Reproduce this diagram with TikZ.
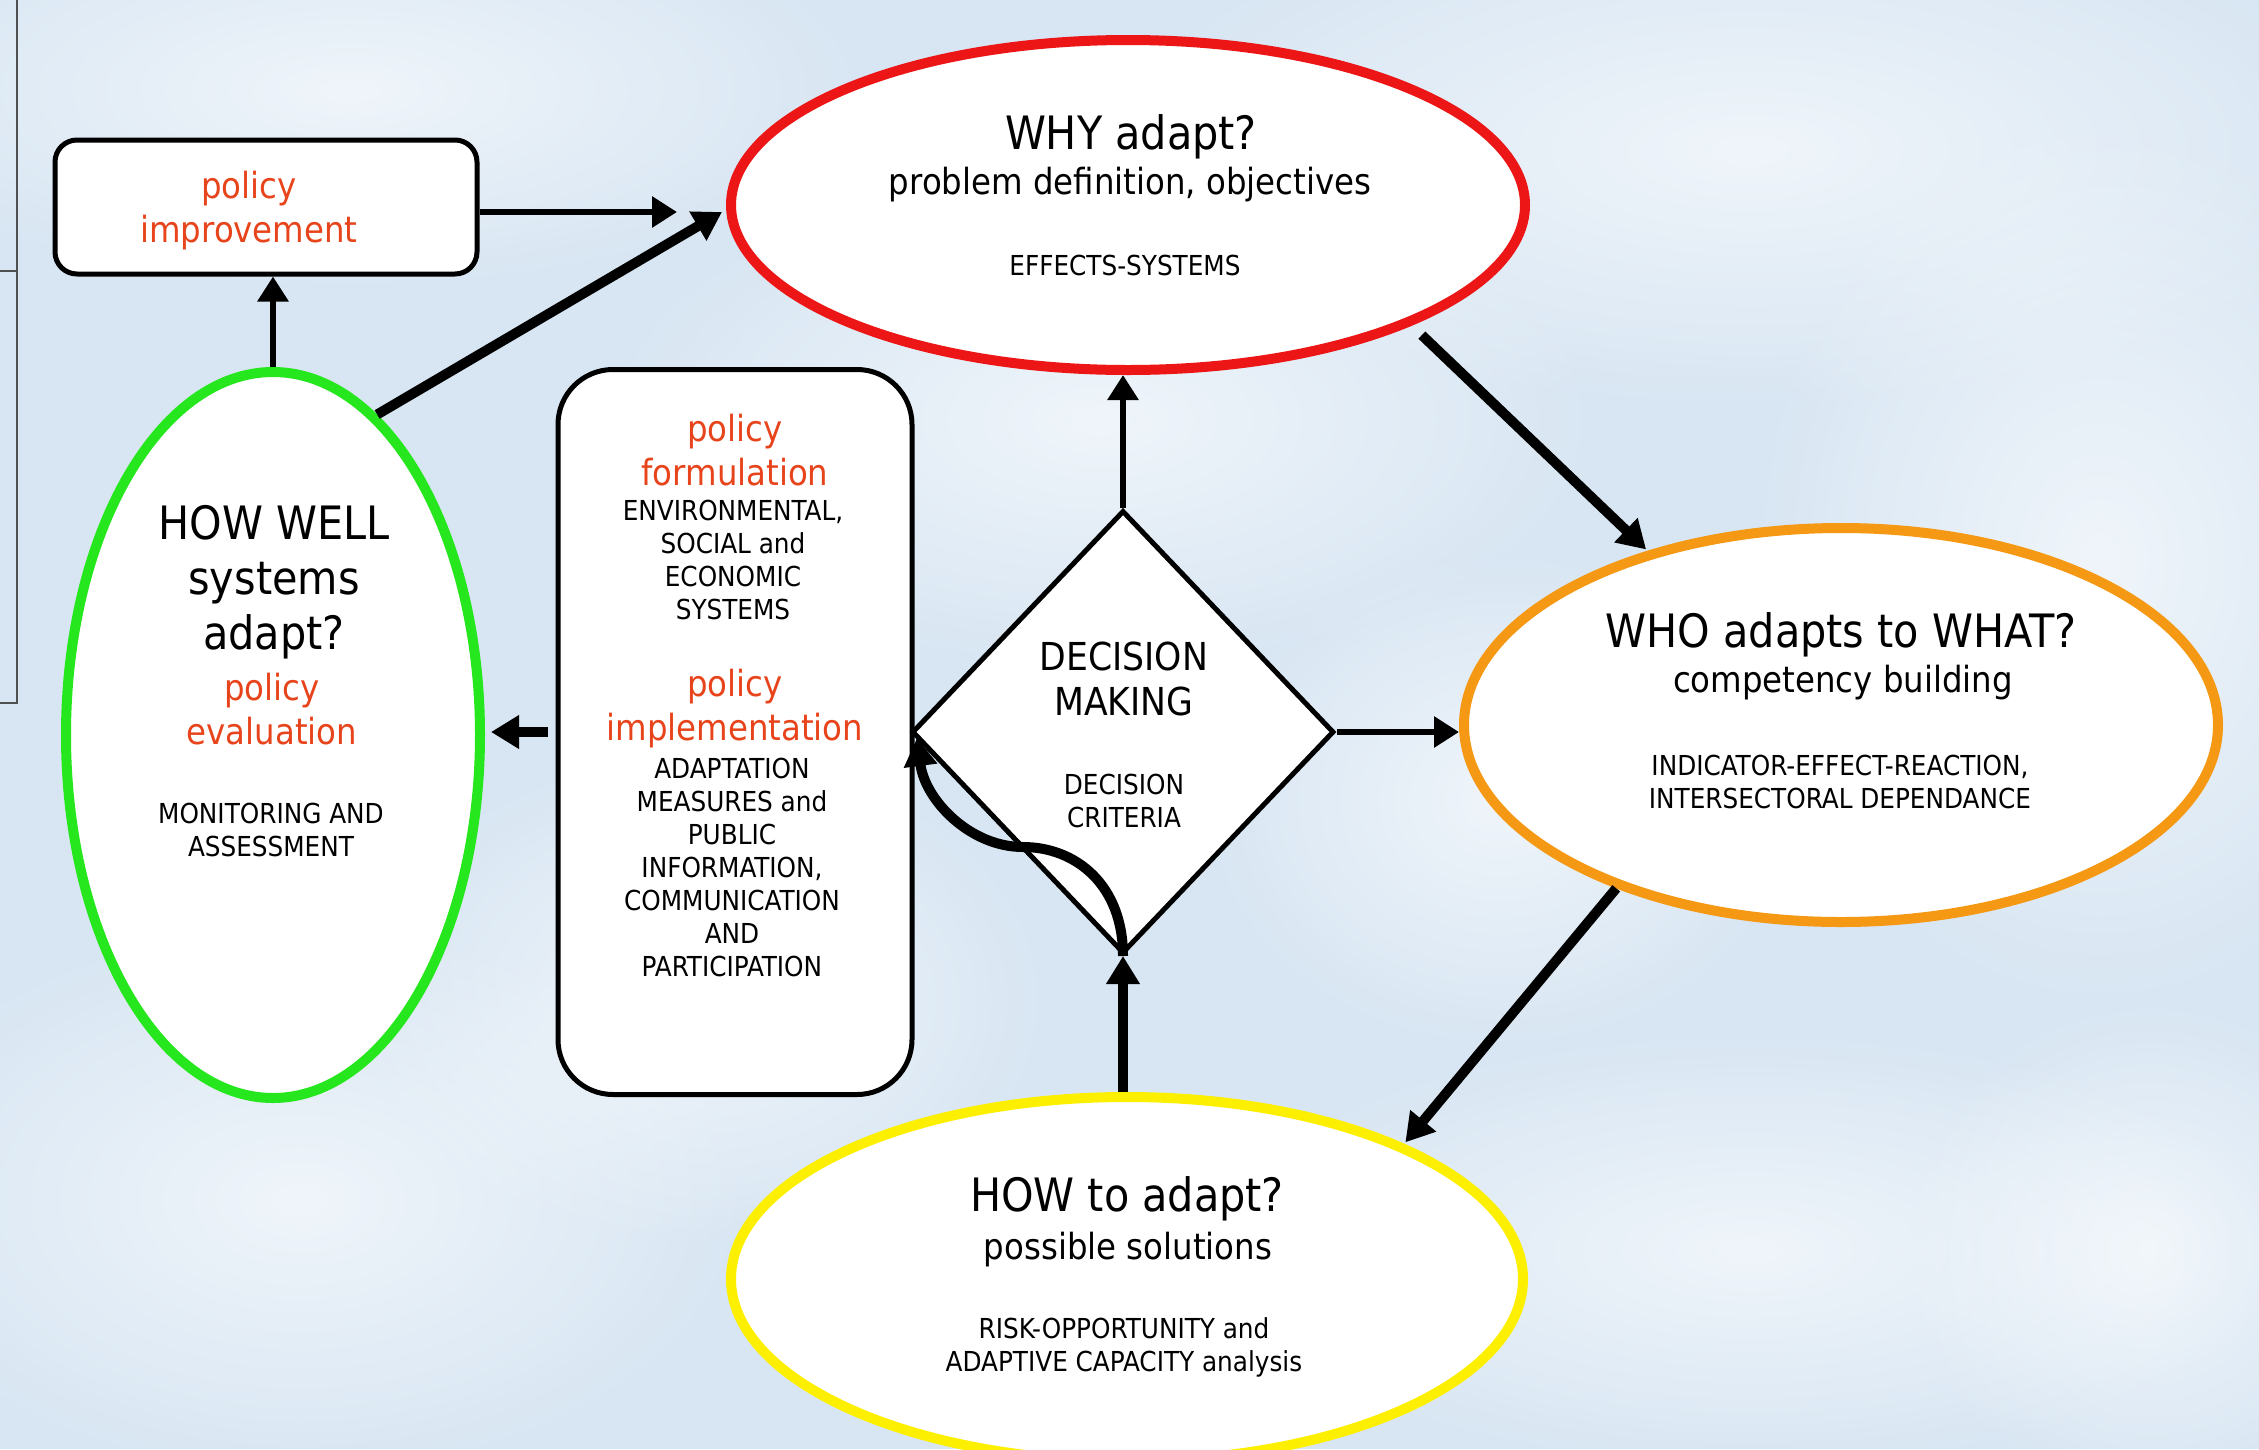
\documentclass[tikz,border=0pt]{standalone}
\usepackage{fontspec}
\setmainfont{DejaVu Sans Condensed}
\usetikzlibrary{shapes.geometric,arrows.meta,fadings}
\tikzfading[name=softblob, inner color=transparent!0, outer color=transparent!100]
\definecolor{bgblue}{RGB}{216,230,243}
\definecolor{txtred}{RGB}{232,68,28}
\definecolor{ellred}{RGB}{236,22,22}
\definecolor{ellorange}{RGB}{245,152,20}
\definecolor{ellyellow}{RGB}{252,240,0}
\definecolor{ellgreen}{RGB}{38,230,30}
\definecolor{framegray}{RGB}{80,80,80}
\tikzset{
  bigtxt/.style={font={\fontsize{46}{55}\selectfont}, align=center, inner sep=0pt},
  medtxt/.style={font={\fontsize{36}{44}\selectfont}, align=center, inner sep=0pt},
  smalltxt/.style={font={\fontsize{27.5}{33}\selectfont}, align=center, inner sep=0pt},
  dectxt/.style={font={\fontsize{38.5}{45}\selectfont}, align=center, inner sep=0pt},
  redtxt/.style={medtxt, text=txtred},
  ellbox/.style={ellipse, fill=white, line width=10pt, inner sep=0pt},
  roundbox/.style={draw=black, fill=white, line width=5pt, inner sep=0pt},
  thinarrow/.style={line width=6pt, -{Triangle[length=25pt,width=30pt]}},
  thickarrow/.style={line width=10pt, -{Triangle[length=28pt,width=32pt]}}
}
\begin{document}
\begin{tikzpicture}[x=1pt,y=-1pt]
\useasboundingbox (0,0) rectangle (2259,1449);
\clip (0,0) rectangle (2259,1449);
% background
\fill[bgblue] (0,0) rectangle (2259,1449);
\foreach \cx/\cy/\rx/\ry in {350/90/520/200, 1100/420/500/250, 1750/150/650/260, 2100/560/350/450,
  300/1200/450/280, 1750/1250/550/220, 700/1000/350/250, 1500/800/300/250, 2150/1250/250/250}
  \fill[white, opacity=0.6, path fading=softblob] (\cx,\cy) ellipse [x radius=\rx, y radius=\ry];
% left frame
\draw[framegray, line width=2pt] (0,271) -- (17,271) (17,0) -- (17,703) -- (0,703);
% shapes
\node[ellbox, draw=ellred, minimum width=794pt, minimum height=330pt] (why) at (1128,205) {};
\node[ellbox, draw=ellorange, minimum width=754pt, minimum height=394pt] (who) at (1841,725) {};
\node[ellbox, draw=ellyellow, minimum width=792pt, minimum height=364pt] (how) at (1127,1279) {};
\node[ellbox, draw=ellgreen, minimum width=414pt, minimum height=726pt] (hw) at (273,735) {};
\node[roundbox, rounded corners=22pt, minimum width=422pt, minimum height=134pt] (pi) at (266,207) {};
\node[roundbox, rounded corners=55pt, minimum width=354pt, minimum height=725pt] (pf) at (735,732) {};
\node[roundbox, diamond, minimum width=422pt, minimum height=443pt] (dm) at (1123,732) {};
% free ends
\coordinate (c1) at (677,212);
\coordinate (c2) at (722,212);
\coordinate (cmid) at (1023,847);
\coordinate (ctip) at (917,738);
% connectors
\draw[thinarrow] (pi.east |- c1) -- (c1);
\draw[thickarrow] (hw.72) -- (c2);
\draw[thinarrow] (hw.north) -- (pi.south -| hw.north);
\draw[thickarrow, shorten <=14pt, shorten >=2pt] (why.-23) -- (who.138);
\draw[thickarrow, shorten >=2pt] (who.-144) -- (how.26);
\draw[thinarrow] (dm.east) -- (dm.east -| who.west);
\draw[thinarrow] (dm.north) -- (dm.north |- why.south);
\draw[thickarrow] (how.north -| dm.south) -- (dm.south);
\draw[thickarrow, shorten <=8pt, shorten >=6pt] (pf.west) -- (pf.west -| hw.east);
\draw[thickarrow] (dm.south) .. controls +(0,-72) and +(52,0) .. (cmid)
   .. controls +(-53,0) and +(8,62) .. (ctip);
% texts
\node[bigtxt] (t1) at (1131,137) {WHY adapt?};
\node[medtxt] (t2) at (1130,185) {problem definition, objectives};
\node[smalltxt] (t3) at (1125,265) {EFFECTS-SYSTEMS};
\node[bigtxt] (t4) at (1841,635) {WHO adapts to WHAT?};
\node[medtxt] (t5) at (1843,683) {competency building};
\node[smalltxt] (t6) at (1840,782) {INDICATOR-EFFECT-REACTION,\\INTERSECTORAL DEPENDANCE};
\node[bigtxt] (t7) at (1127,1199) {HOW to adapt?};
\node[medtxt] (t8) at (1128,1250) {possible solutions};
\node[smalltxt] (t9) at (1124,1347) {RISK-OPPORTUNITY and\\ADAPTIVE CAPACITY analysis};
\node[bigtxt] (t10) at (274,582) {HOW WELL\\systems\\adapt?};
\node[redtxt] (t11) at (272,709) {policy\\evaluation};
\node[smalltxt] (t12) at (271,830) {MONITORING AND\\ASSESSMENT};
\node[redtxt] (t13) at (249,211) {policy\\improvement};
\node[redtxt] (t14) at (735,450) {policy\\formulation};
\node[smalltxt] (t15) at (733,560) {ENVIRONMENTAL,\\SOCIAL and\\ECONOMIC\\SYSTEMS};
\node[redtxt] (t16) at (735,709) {policy\\implementation};
\node[smalltxt] (t17) at (732,867) {ADAPTATION\\MEASURES and\\PUBLIC\\INFORMATION,\\COMMUNICATION\\AND\\PARTICIPATION};
\node[dectxt] (t18) at (1124,679) {DECISION\\MAKING};
\node[smalltxt] (t19) at (1124,801) {DECISION\\CRITERIA};
\end{tikzpicture}
\end{document}
